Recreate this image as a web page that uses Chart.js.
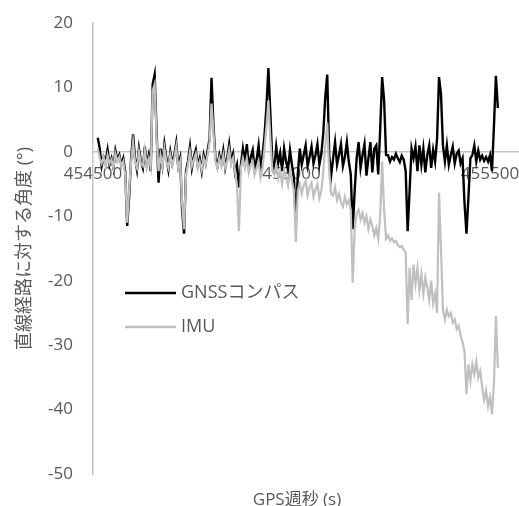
<!DOCTYPE html>
<html>
<head>
<meta charset="utf-8">
<script src="https://cdn.jsdelivr.net/npm/chart.js@4.4.0/dist/chart.umd.min.js"></script>
<style>
  html, body { margin: 0; padding: 0; background: #fff; }
  #wrap { width: 519px; height: 506px; }
</style>
</head>
<body>
<div id="wrap"><canvas id="myChart" width="519" height="506"></canvas></div>
<script>
// GPS week seconds of the first sample and the sample step
var startTime = 454512;
var stepTime = 4.94;

// heading error vs. straight path (deg), GNSS compass
var gnss = [
  2.2, 0.5, -2.2, -0.8, -1.5, 0.3, -2.0, -1.0, -2.5, 0.2,
  -1.2, -0.5, -2.0, -1.0, -3.0, -11.5, -7.0, -1.0, 2.7, -1.0,
  -2.8, 0.5, -1.5, -2.5, 0.8, -2.0, -0.5, -3.0, 10.5, 12.0,
  3.0, -4.8, 0.5, -2.0, 1.2, -1.0, -2.8, 0.0, -1.8, -0.5,
  1.4, -2.2, -1.0, -9.0, -12.7, -3.0, -1.5, 0.8, -2.5, -0.8,
  0.3, -2.2, -1.0, -3.0, -0.5, -1.8, 0.2, 2.0, 11.5, 4.0,
  -1.0, -2.3, -0.5, -1.8, 0.2, -2.5, -1.0, 1.2, -1.5, -0.3,
  -3.2, -2.0, -5.5, -2.0, 0.5, -1.5, 1.2, -2.5, -0.8, 0.3,
  -2.8, -1.2, 1.0, -2.5, -0.5, 2.5, 7.0, 13.0, 6.0, -1.5,
  -2.5, 0.8, -1.8, -0.2, -3.0, 0.5, -1.5, -2.8, 0.3, -2.0,
  -4.0, -11.0, -3.5, 0.5, -2.0, -0.5, 1.0, -2.2, -0.8, 0.8,
  -1.8, -0.5, 1.2, -2.0, -0.3, 3.0, 8.5, 12.0, -0.5, -3.7,
  -1.0, 1.5, -2.0, -0.5, 1.2, -2.2, -0.8, 1.5, -1.5, -3.5,
  -12.0, -6.0, -1.0, 1.5, -2.5, -0.5, 1.2, -3.7, -1.0, 1.5,
  -3.2, 0.5, 1.0, -3.5, 3.5, 11.6, 8.0, -0.5, -0.5, -1.5,
  -0.8, -1.2, -0.3, -1.0, -1.6, -0.6, -1.2, -3.0, -12.3, -6.0,
  0.5, -1.0, 0.8, -3.0, 1.0, -2.0, 0.5, -3.2, -0.5, 1.0,
  -2.5, 0.3, -1.5, 2.0, 11.6, 9.0, 1.0, -1.5, 1.0, -2.0,
  -0.5, 0.8, -1.8, -0.3, 0.2, -1.8, -1.0, -8.0, -12.7, -7.0,
  -1.0, -0.5, 1.0, -1.5, 0.2, -1.2, -0.6, -1.4, -0.8, -1.5,
  -0.5, -3.0, 4.0, 11.8, 6.8
];

// heading error vs. straight path (deg), IMU
var imu = [
  0.5, -1.0, -1.8, -0.8, -2.2, -0.5, -1.8, -1.2, -2.5, -0.3,
  -1.5, -0.8, -2.2, -1.5, -3.5, -11.0, -6.0, -1.5, 1.5, -1.5,
  -2.5, 0.0, -1.8, -2.2, 0.3, -2.2, -1.0, -2.5, 9.5, 10.5,
  2.0, -3.0, -0.5, -2.2, 0.5, -1.5, -2.5, -0.5, -2.0, -1.0,
  0.8, -2.5, -1.5, -8.0, -12.0, -3.5, -2.0, 0.0, -2.2, -1.2,
  -0.3, -2.5, -1.5, -2.8, -1.0, -2.0, -0.5, 1.5, 7.5, 3.0,
  -1.5, -2.5, -1.0, -2.2, -0.5, -2.5, -1.5, 0.3, -2.0, -1.0,
  -3.0, -5.5, -12.3, -2.5, -1.0, -2.5, -1.0, -3.2, -2.0, -1.5,
  -3.5, -2.5, -1.5, -4.0, -2.5, 0.5, 4.0, 8.0, 2.0, -3.0,
  -3.5, -2.0, -4.2, -3.0, -5.0, -2.8, -3.8, -5.2, -3.0, -4.5,
  -6.0, -14.0, -6.0, -5.0, -6.5, -5.2, -4.5, -6.8, -5.5, -4.8,
  -7.0, -5.8, -5.0, -7.2, -6.0, -3.0, 1.0, 4.5, -3.0, -6.5,
  -6.8, -5.5, -7.5, -6.5, -7.8, -8.5, -7.0, -8.2, -7.5, -9.0,
  -20.3, -12.0, -9.5, -9.0, -10.5, -9.5, -11.0, -10.0, -12.0, -10.5,
  -11.5, -13.0, -11.8, -13.5, -10.0, -1.5, -9.0, -13.5, -13.0, -13.8,
  -13.4, -14.0, -13.8, -14.5, -14.8, -14.6, -15.2, -15.6, -26.7, -18.0,
  -23.0, -17.5, -20.5, -18.0, -21.5, -19.0, -22.0, -19.5, -21.0, -23.0,
  -20.0, -23.5, -22.0, -25.0, -6.3, -15.0, -24.5, -26.0, -24.5, -25.5,
  -25.0, -26.5, -26.0, -27.5, -27.0, -28.5, -29.5, -31.0, -37.6, -33.0,
  -35.5, -33.0, -34.5, -32.5, -35.0, -34.0, -36.5, -38.5, -37.0, -39.5,
  -38.0, -40.7, -36.0, -25.5, -33.5
];

var seriesNames = ['GNSSコンパス', 'IMU'];
var xTicks = [454500, 455000, 455500];
var xMin = 454500, xMax = 455573;
var yMin = -50, yMax = 20, yStep = 10;
var xTitle = 'GPS週秒 (s)';
var yTitle = '直線経路に対する角度 (°)';

var textColor = '#595959';
var axisColor = '#c4c4c4';
var fontFamily = "'Open Sans', 'Noto Sans CJK JP', sans-serif";

function toPoints(values) {
  return values.map(function(v, i) {
    return { x: startTime + i * stepTime, y: v };
  });
}

// legend inside the plot and the x title under it
var extrasPlugin = {
  id: 'extras',
  afterDraw: function(chart) {
    var ctx = chart.ctx;
    ctx.save();
    chart.data.datasets.forEach(function(ds, k) {
      var y = 293 + k * 34;
      ctx.strokeStyle = ds.borderColor;
      ctx.lineWidth = k === 0 ? 2.6 : 2.4;
      ctx.beginPath();
      ctx.moveTo(125, y);
      ctx.lineTo(176, y);
      ctx.stroke();
      ctx.fillStyle = textColor;
      ctx.font = '18px ' + fontFamily;
      ctx.textBaseline = 'middle';
      ctx.textAlign = 'left';
      ctx.fillText(ds.label, 181, y);
    });
    ctx.font = '17px ' + fontFamily;
    ctx.textAlign = 'center';
    ctx.textBaseline = 'alphabetic';
    ctx.fillText(xTitle, 297, 505);
    ctx.restore();
  }
};

Chart.defaults.font.family = fontFamily;
Chart.defaults.font.size = 17;
Chart.defaults.color = textColor;

var ctx = document.getElementById('myChart').getContext('2d');
var myChart = new Chart(ctx, {
  type: 'line',
  data: {
    datasets: [{
      label: seriesNames[0],
      data: toPoints(gnss),
      borderColor: '#000000',
      borderWidth: 2.4,
      pointRadius: 0,
      tension: 0,
      order: 1
    }, {
      label: seriesNames[1],
      data: toPoints(imu),
      borderColor: '#c0c0c0',
      borderWidth: 2.2,
      pointRadius: 0,
      tension: 0,
      order: 0
    }]
  },
  options: {
    responsive: false,
    animation: false,
    layout: { padding: { left: 0, top: 23, right: 0, bottom: 32 } },
    plugins: {
      legend: { display: false },
      tooltip: { enabled: false }
    },
    scales: {
      x: {
        type: 'linear',
        position: { y: 0 },
        min: xMin,
        max: xMax,
        afterBuildTicks: function(axis) {
          axis.ticks = xTicks.map(function(v) { return { value: v }; });
        },
        afterFit: function(scale) {
          scale.paddingLeft = 0;
          scale.paddingRight = 0;
        },
        grid: { drawOnChartArea: false, drawTicks: false },
        border: { display: true, color: axisColor, width: 1.5 },
        ticks: {
          padding: 12,
          maxRotation: 0,
          autoSkip: false,
          callback: function(v) { return String(v); }
        }
      },
      y: {
        min: yMin,
        max: yMax,
        afterFit: function(scale) {
          scale.width = 93;
          scale.paddingTop = 0;
          scale.paddingBottom = 0;
        },
        grid: { drawOnChartArea: false, drawTicks: false },
        border: { display: true, color: axisColor, width: 1.5 },
        ticks: {
          stepSize: yStep,
          padding: 20,
          callback: function(v) { return String(v); }
        },
        title: {
          display: true,
          text: yTitle,
          font: { size: 18 },
          padding: { top: 14, bottom: 0 }
        }
      }
    }
  },
  plugins: [extrasPlugin]
});
</script>
</body>
</html>
